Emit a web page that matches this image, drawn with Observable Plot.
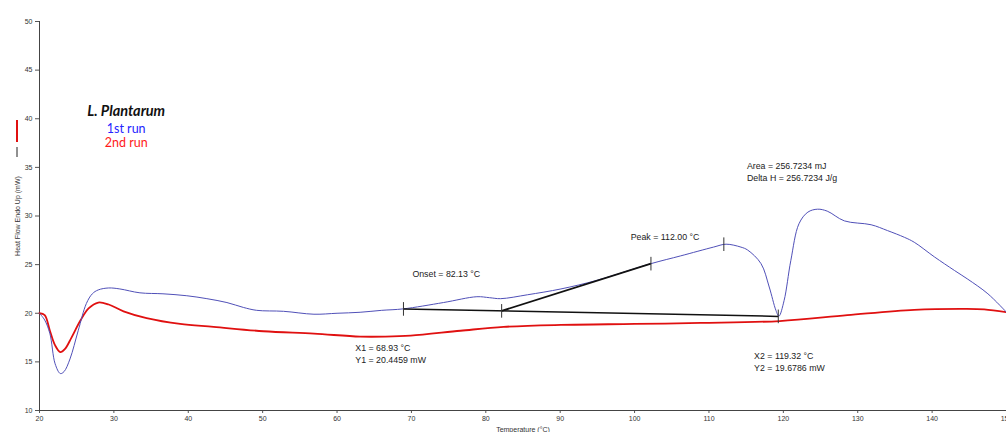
<!DOCTYPE html>
<html>
<head>
<meta charset="utf-8">
<script src="https://cdn.jsdelivr.net/npm/d3@7"></script>
<script src="https://cdn.jsdelivr.net/npm/@observablehq/plot@0.6"></script>
<style>
  html, body { margin: 0; padding: 0; background: #fff; }
  #chart { width: 1006px; height: 432px; overflow: hidden; position: relative; }
  svg { overflow: visible; }
</style>
</head>
<body>
<div id="chart"></div>
<script>
// 1st run (blue): temperature (°C) and heat flow (mW)
const temp1 = [20.0,20.7,21.4,22.1,22.8,23.3,24.1,25.2,26.3,27.1,27.9,29.3,30.8,33.5,36.6,39.8,42.5,45.2,47.4,49.2,52.8,56.9,60.0,63.1,66.0,68.9,74.3,78.8,80.5,82.0,85.6,90.1,95.0,102.2,106.2,110.6,112.3,114.3,115.2,117.0,118.1,119.0,119.4,120.1,121.0,122.1,123.3,124.6,125.9,128.2,131.8,134.0,136.3,137.6,140.3,143.0,144.8,147.5,150.0];
const heat1 = [20.0,19.3,17.9,14.8,13.8,14.0,15.3,18.2,21.0,22.0,22.4,22.6,22.5,22.1,22.0,21.8,21.5,21.1,20.6,20.3,20.2,19.9,20.0,20.1,20.3,20.45,21.1,21.7,21.6,21.5,21.9,22.5,23.4,25.1,25.9,26.8,27.1,26.8,26.5,25.1,22.7,20.3,19.7,21.3,25.4,29.2,30.4,30.7,30.5,29.5,29.1,28.5,27.8,27.3,25.8,24.4,23.5,22.0,20.1];

// 2nd run (red)
const temp2 = [20.0,20.7,21.4,22.1,22.8,23.4,24.3,25.5,26.6,27.9,29.3,31.3,34.4,38.9,43.4,50.1,56.9,63.1,66.5,69.9,76.6,82.4,90.1,100.0,108.9,119.5,128.6,137.6,144.3,147.0,150.0];
const heat2 = [20.0,19.8,18.2,16.7,16.0,16.3,17.5,19.25,20.5,21.1,20.9,20.2,19.5,18.9,18.6,18.15,17.9,17.6,17.6,17.7,18.2,18.6,18.8,18.9,19.0,19.2,19.8,20.35,20.45,20.4,20.1];

// Analysis: baseline end points, onset tangent and markers
const baseX = [68.93, 119.32];
const baseY = [20.4459, 19.6786];
const onsetX = [82.13, 102.2];
const onsetY = [20.245, 25.1];
const markX = [68.93, 82.13, 102.2, 112.0, 119.32];
const markY = [20.4459, 20.245, 25.1, 27.1, 19.6786];

// Tick labels
const xTicks = [20,30,40,50,60,70,80,90,100,110,120,130,140,150];
const yTicks = [10,15,20,25,30,35,40,45,50];

// Annotation texts (anchored at chart coordinates)
const annText = ["Onset = 82.13 °C", "Peak = 112.00 °C", "Area = 256.7234 mJ\nDelta H = 256.7234 J/g", "X1 = 68.93 °C\nY1 = 20.4459 mW", "X2 = 119.32 °C\nY2 = 19.6786 mW"];
const annX = [70.13, 99.48, 115.1, 62.46, 116.07];
const annY = [24.1, 27.9, 34.58, 15.91, 15.09];

// Legend block
const legendText = ["L. Plantarum", "1st run", "2nd run"];
const legendColor = ["#111111", "#2424ff", "#ff1a1a"];
const legendX = [31.65, 31.65, 31.65];
const legendY = [40.75, 38.97, 37.49];

const run1 = temp1.map((t, i) => ({t, v: heat1[i]}));
const run2 = temp2.map((t, i) => ({t, v: heat2[i]}));
const marks = markX.map((t, i) => ({t, v: markY[i]}));
const ann = annText.map((s, i) => ({s, t: annX[i], v: annY[i]}));
const leg = legendText.map((s, i) => ({s, c: legendColor[i], t: legendX[i], v: legendY[i]}));

const plot = Plot.plot({
  width: 1006,
  height: 432,
  marginLeft: 39,
  marginRight: 0,
  marginTop: 21,
  marginBottom: 22,
  style: {fontFamily: "'Liberation Sans', Arial, sans-serif", fontSize: "7px", color: "#333", background: "#fff"},
  x: {domain: [20, 150]},
  y: {domain: [10, 50]},
  marks: [
    Plot.axisX({ticks: xTicks, tickSize: 3, tickPadding: 3, tickFormat: d => d, label: "Temperature (°C)", labelAnchor: "center", labelArrow: "none", labelOffset: 21, stroke: "#555"}),
    Plot.axisY({ticks: yTicks, tickSize: 4, tickPadding: 3, tickFormat: d => d, label: null, stroke: "#555"}),
    Plot.ruleX([20], {stroke: "#444", strokeWidth: 1}),
    Plot.ruleY([10], {stroke: "#444", strokeWidth: 1}),
    Plot.line(run2, {x: "t", y: "v", stroke: "#e01010", strokeWidth: 1.8, curve: "catmull-rom"}),
    Plot.line(run1, {x: "t", y: "v", stroke: "#5050b8", strokeWidth: 1, curve: "catmull-rom"}),
    Plot.link([0], {x1: () => baseX[0], y1: () => baseY[0], x2: () => baseX[1], y2: () => baseY[1], stroke: "#111", strokeWidth: 1.5}),
    Plot.link([0], {x1: () => onsetX[0], y1: () => onsetY[0], x2: () => onsetX[1], y2: () => onsetY[1], stroke: "#111", strokeWidth: 1.8}),
    Plot.link(marks, {x1: "t", x2: "t", y1: d => d.v - 0.7, y2: d => d.v + 0.7, stroke: "#333", strokeWidth: 1}),
    Plot.text(ann, {x: "t", y: "v", text: "s", textAnchor: "start", lineAnchor: "middle", lineHeight: 1.35, fontSize: 8.8, fill: "#222"}),
    Plot.text(leg.slice(0, 1), {x: "t", y: "v", text: "s", fill: "c", fontSize: 14.5, fontWeight: "bold", fontStyle: "italic", fontFamily: "Lato, 'Open Sans', sans-serif"}),
    Plot.text(leg.slice(1), {x: "t", y: "v", text: "s", fill: "c", fontSize: 12.5, fontFamily: "Lato, 'Open Sans', sans-serif"}),
    Plot.text(["Heat Flow Endo Up (mW)"], {frameAnchor: "left", textAnchor: "middle", rotate: -90, dx: -22, dy: 0, fontSize: 7, fill: "#333"})
  ]
});

document.getElementById("chart").appendChild(plot);

// Legend glyphs beside the y-axis title
const svg = d3.select(plot);
svg.append("line").attr("x1", 17).attr("x2", 17).attr("y1", 120).attr("y2", 142).attr("stroke", "#e01010").attr("stroke-width", 2);
svg.append("line").attr("x1", 17).attr("x2", 17).attr("y1", 147).attr("y2", 157).attr("stroke", "#222").attr("stroke-width", 1);
</script>
</body>
</html>
